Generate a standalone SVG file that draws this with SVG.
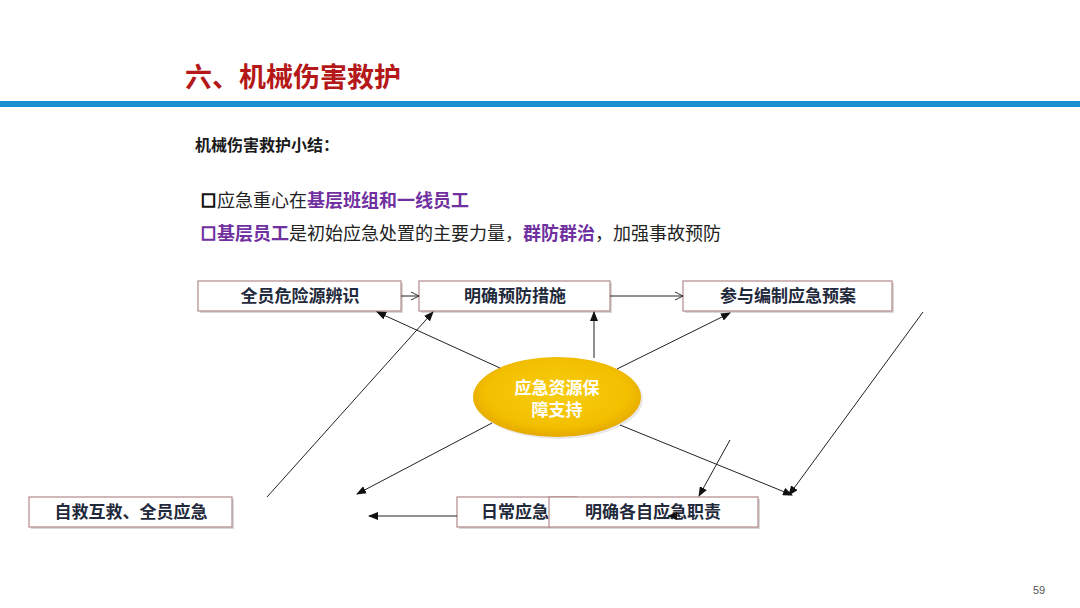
<svg xmlns="http://www.w3.org/2000/svg" width="1080" height="608" viewBox="0 0 1080 608">
<style>
.box{fill:#fff;stroke:#b48a8a;stroke-width:1.2}
.shadow{fill:#d8d8d8}
.bt{font-family:"Liberation Sans","Noto Sans CJK SC",sans-serif;font-weight:bold;font-size:17px;fill:#1f2a3c;text-anchor:middle}
.con{stroke:#222;stroke-width:1;fill:none}
.body{font-family:"Liberation Sans","Noto Sans CJK SC",sans-serif;font-size:18px;fill:#222}
.pur{fill:#7030a0;font-weight:bold}
.chk{font-family:"Noto Sans CJK SC",sans-serif;font-size:15px;font-weight:bold;stroke-width:1.3}
</style>
<defs>
<marker id="fa" markerUnits="userSpaceOnUse" markerWidth="10" markerHeight="8" refX="9" refY="4" orient="auto">
<path d="M0,0 L10,4 L0,8 z" fill="#111"/>
</marker>
<marker id="oa" markerUnits="userSpaceOnUse" markerWidth="10" markerHeight="10" refX="9" refY="5" orient="auto">
<path d="M1,1 L9,5 L1,9" fill="none" stroke="#333" stroke-width="1"/>
</marker>
<radialGradient id="eg" cx="50%" cy="45%" r="60%">
<stop offset="0" stop-color="#f7cc10"/>
<stop offset="0.7" stop-color="#f3c000"/>
<stop offset="1" stop-color="#e0a000"/>
</radialGradient>
</defs>
<rect width="1080" height="608" fill="#fff"/>
<g id="header">
<text x="185" y="87" font-family="Liberation Sans,'Noto Sans CJK SC',sans-serif" font-size="27" font-weight="bold" fill="#b41818">六、机械伤害救护</text>
<rect x="0" y="101" width="1080" height="6" fill="#1b8fcf"/>
<text x="195" y="151" font-family="Liberation Sans,'Noto Sans CJK SC',sans-serif" font-size="16" font-weight="bold" fill="#1a1a1a">机械伤害救护小结：</text>
<text x="201" y="206" class="chk" fill="#111" stroke="#111">□</text>
<text x="217" y="207" class="body">应急重心在<tspan class="pur">基层班组和一线员工</tspan></text>
<text x="201" y="239" class="chk" fill="#7030a0" stroke="#7030a0">□</text>
<text x="217" y="240" class="body"><tspan class="pur">基层员工</tspan>是初始应急处置的主要力量，<tspan class="pur">群防群治</tspan>，加强事故预防</text>
</g>
<g id="n1"><rect class="shadow" x="200" y="283" width="203" height="30"/><rect class="box" x="198" y="281" width="203" height="30"/><text class="bt" x="300" y="302">全员危险源辨识</text></g>
<g id="n2"><rect class="shadow" x="421" y="283" width="191" height="30"/><rect class="box" x="419" y="281" width="191" height="30"/><text class="bt" x="515" y="302">明确预防措施</text></g>
<g id="n3"><rect class="shadow" x="685" y="283" width="209" height="30"/><rect class="box" x="683" y="281" width="209" height="30"/><text class="bt" x="788" y="302">参与编制应急预案</text></g>
<g id="n4"><rect class="shadow" x="31" y="499" width="203" height="30"/><rect class="box" x="29" y="497" width="203" height="30"/><text class="bt" x="131" y="518">自救互救、全员应急</text></g>
<g id="n5"><rect class="shadow" x="459" y="499" width="120" height="30"/><rect class="box" x="457" y="497" width="120" height="30"/><text class="bt" x="481" y="518" style="text-anchor:start">日常应急</text></g>
<g id="n6"><rect class="shadow" x="551" y="499" width="209" height="30"/><rect class="box" x="549" y="497" width="209" height="30"/><text class="bt" x="653" y="518">明确各自应急职责</text></g>
<g id="center">
<ellipse cx="559" cy="399" rx="84" ry="40" fill="#d9d9d9" opacity="0.6"/>
<ellipse cx="557" cy="397" rx="84" ry="40" fill="url(#eg)"/>
<text class="bt" x="557" y="394" style="fill:#fff">应急资源保</text>
<text class="bt" x="557" y="416" style="fill:#fff">障支持</text>
</g>
<g id="connectors">
<line class="con" x1="401" y1="296" x2="419" y2="296" marker-end="url(#oa)"/>
<line class="con" x1="610" y1="296" x2="683" y2="296" marker-end="url(#oa)"/>
<line class="con" x1="500" y1="368" x2="377" y2="312" marker-end="url(#fa)"/>
<line class="con" x1="267" y1="497" x2="433" y2="312" marker-end="url(#fa)"/>
<line class="con" x1="594" y1="358" x2="594" y2="312" marker-end="url(#fa)"/>
<line class="con" x1="617" y1="369" x2="730" y2="313" marker-end="url(#fa)"/>
<line class="con" x1="923" y1="312" x2="789" y2="495" marker-end="url(#fa)"/>
<line class="con" x1="620" y1="425" x2="792" y2="495" marker-end="url(#fa)"/>
<line class="con" x1="730" y1="440" x2="699" y2="496" marker-end="url(#fa)"/>
<line class="con" x1="492" y1="423" x2="357" y2="494" marker-end="url(#fa)"/>
<line class="con" x1="457" y1="516" x2="369" y2="516" marker-end="url(#fa)"/>
<line class="con" x1="679" y1="516" x2="668" y2="516" marker-end="url(#fa)"/>
</g>
<text x="1033" y="594" font-family="Liberation Sans,sans-serif" font-size="11" fill="#555">59</text>
</svg>
